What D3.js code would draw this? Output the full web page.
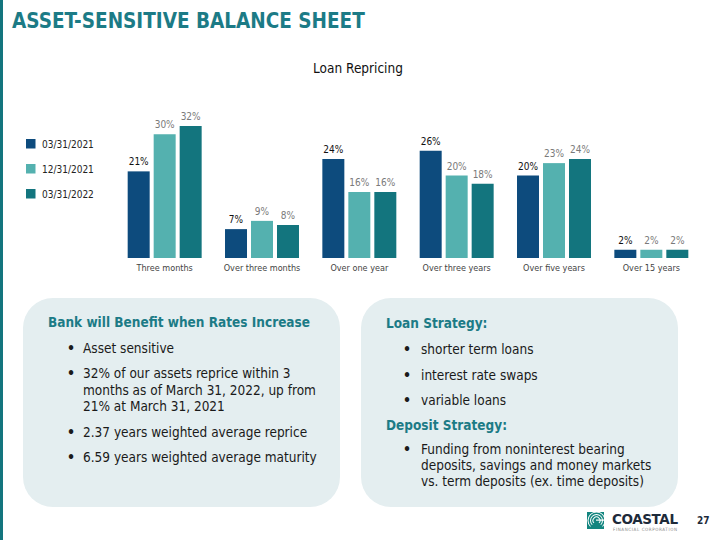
<!DOCTYPE html>
<html>
<head>
<meta charset="utf-8">
<script src="https://cdn.jsdelivr.net/npm/d3@7"></script>
<style>
  body { margin: 0; background: #fff; }
  svg { display: block; font-family: "DejaVu Sans Condensed", "DejaVu Sans", sans-serif; }
</style>
</head>
<body>
<div id="chart"></div>
<script>
// chart data
const categories = ["Three months", "Over three months", "Over one year", "Over three years", "Over five years", "Over 15 years"];
const seriesNames = ["03/31/2021", "12/31/2021", "03/31/2022"];
const mar2021 = [21, 7, 24, 26, 20, 2];
const dec2021 = [30, 9, 16, 20, 23, 2];
const mar2022 = [32, 8, 16, 18, 24, 2];
const seriesColors = ["#0d4b7d", "#54b1af", "#13757e"];

// text panels
const leftTitle = "Bank will Benefit when Rates Increase";
const leftBullets = [
  ["Asset sensitive"],
  ["32% of our assets reprice within 3", "months as of March 31, 2022, up from", "21% at March 31, 2021"],
  ["2.37 years weighted average reprice"],
  ["6.59 years weighted average maturity"]
];
const loanTitle = "Loan Strategy:";
const loanBullets = [["shorter term loans"], ["interest rate swaps"], ["variable loans"]];
const depositTitle = "Deposit Strategy:";
const depositBullets = [["Funding from noninterest bearing", "deposits, savings and money markets", "vs. term deposits (ex. time deposits)"]];

const W = 720, H = 540;
const teal = "#1c7b86";

let svg = d3.select("#chart").append("svg")
    .attr("width", W)
    .attr("height", H);

// left edge stripe
svg.append("rect").attr("x", 0).attr("y", 0).attr("width", 3).attr("height", H).attr("fill", "#13757e");

// slide heading
svg.append("text")
    .attr("x", 12).attr("y", 28)
    .attr("font-size", 20.5).attr("font-weight", "bold")
    .attr("fill", teal)
    .text("ASSET-SENSITIVE BALANCE SHEET");

// chart title
svg.append("text")
    .attr("x", 358).attr("y", 73)
    .attr("text-anchor", "middle")
    .attr("font-size", 13.5)
    .attr("fill", "#111")
    .text("Loan Repricing");

// scales
let x0 = d3.scaleBand().domain(categories).range([116, 700]).paddingInner(0.24).paddingOuter(0.12);
let x1 = d3.scaleBand().domain(seriesNames).range([0, x0.bandwidth()]).paddingInner(4 / 26);
let y = d3.scaleLinear().domain([0, 32]).range([258, 126]);

let rows = categories.map((c, i) => ({
    cat: c,
    vals: [mar2021[i], dec2021[i], mar2022[i]].map((v, j) => ({ s: seriesNames[j], v: v, j: j }))
}));

let groups = svg.selectAll(".grp")
    .data(rows)
    .enter().append("g")
    .attr("class", "grp")
    .attr("transform", d => "translate(" + x0(d.cat) + ",0)");

groups.selectAll("rect")
    .data(d => d.vals)
    .enter().append("rect")
    .attr("x", d => x1(d.s))
    .attr("y", d => y(d.v))
    .attr("width", x1.bandwidth())
    .attr("height", d => y(0) - y(d.v))
    .attr("fill", d => seriesColors[d.j]);

groups.selectAll(".val")
    .data(d => d.vals)
    .enter().append("text")
    .attr("class", "val")
    .attr("x", d => x1(d.s) + x1.bandwidth() / 2)
    .attr("y", d => y(d.v) - 6)
    .attr("text-anchor", "middle")
    .attr("font-size", 10)
    .attr("fill", d => d.j === 0 ? "#111" : "#7a7a7a")
    .text(d => d.v + "%");

// category axis labels
let xAxis = d3.axisBottom(x0).tickSize(0).tickPadding(7);
let axisG = svg.append("g").attr("transform", "translate(0,258)").call(xAxis);
axisG.select(".domain").remove();
axisG.selectAll("text")
    .attr("font-family", "DejaVu Sans Condensed, DejaVu Sans, sans-serif")
    .attr("font-size", 9)
    .attr("fill", "#444");

// legend
let legend = svg.selectAll(".leg")
    .data(seriesNames)
    .enter().append("g")
    .attr("class", "leg")
    .attr("transform", (d, i) => "translate(26," + (139 + i * 25) + ")");
legend.append("rect").attr("width", 9.5).attr("height", 9.5).attr("fill", (d, i) => seriesColors[i]);
legend.append("text")
    .attr("x", 16).attr("y", 9)
    .attr("font-size", 10)
    .attr("fill", "#222")
    .text(d => d);

// rounded info panels
function panel(x, w) {
    svg.append("rect")
        .attr("x", x).attr("y", 298)
        .attr("width", w).attr("height", 209)
        .attr("rx", 30).attr("ry", 30)
        .attr("fill", "#e4eef0");
}
panel(23, 317);
panel(361, 317);

function heading(txt, x, yy) {
    svg.append("text")
        .attr("x", x).attr("y", yy)
        .attr("font-size", 13.5).attr("font-weight", "bold")
        .attr("fill", teal)
        .text(txt);
}

function bullets(list, bx, tx, ys, lineGap) {
    list.forEach((lines, i) => {
        svg.append("text")
            .attr("x", bx).attr("y", ys[i])
            .attr("font-size", 14).attr("font-weight", "bold").attr("fill", "#1a1a1a")
            .text("\u2022");
        lines.forEach((ln, k) => {
            svg.append("text")
                .attr("x", tx).attr("y", ys[i] + k * lineGap)
                .attr("font-size", 13.5).attr("fill", "#1a1a1a")
                .text(ln);
        });
    });
}

heading(leftTitle, 48, 327);
bullets(leftBullets, 67, 83, [353, 378, 437, 462], 16.5);

heading(loanTitle, 386, 328);
bullets(loanBullets, 403, 421, [354, 380, 405], 16);
heading(depositTitle, 386, 430);
bullets(depositBullets, 403, 421, [454], 16);

// footer logo
let logo = svg.append("g").attr("transform", "translate(587,512)");
logo.append("rect").attr("width", 17).attr("height", 17).attr("fill", "#13857f");
[3, 5.5, 8].forEach(r => {
    logo.append("path")
        .attr("d", d3.arc()({ innerRadius: r, outerRadius: r + 1, startAngle: Math.PI * 0.25, endAngle: Math.PI * 1.75 }))
        .attr("transform", "translate(9.5,8.5) rotate(180)")
        .attr("fill", "#fff");
});
logo.append("rect").attr("x", 9).attr("y", 7.5).attr("width", 8).attr("height", 1.2).attr("fill", "#fff");
svg.append("text")
    .attr("x", 612).attr("y", 524)
    .attr("font-family", "DejaVu Sans")
    .attr("font-size", 13.5).attr("font-weight", "bold")
    .attr("fill", "#1d2a3a")
    .attr("textLength", 66)
    .text("COASTAL");
svg.append("text")
    .attr("x", 613).attr("y", 531)
    .attr("font-size", 4.5)
    .attr("fill", "#888")
    .attr("textLength", 64)
    .text("FINANCIAL CORPORATION");
svg.append("text")
    .attr("x", 697).attr("y", 524)
    .attr("font-size", 10).attr("font-weight", "bold")
    .attr("fill", "#1d2a3a")
    .text("27");
</script>
</body>
</html>
